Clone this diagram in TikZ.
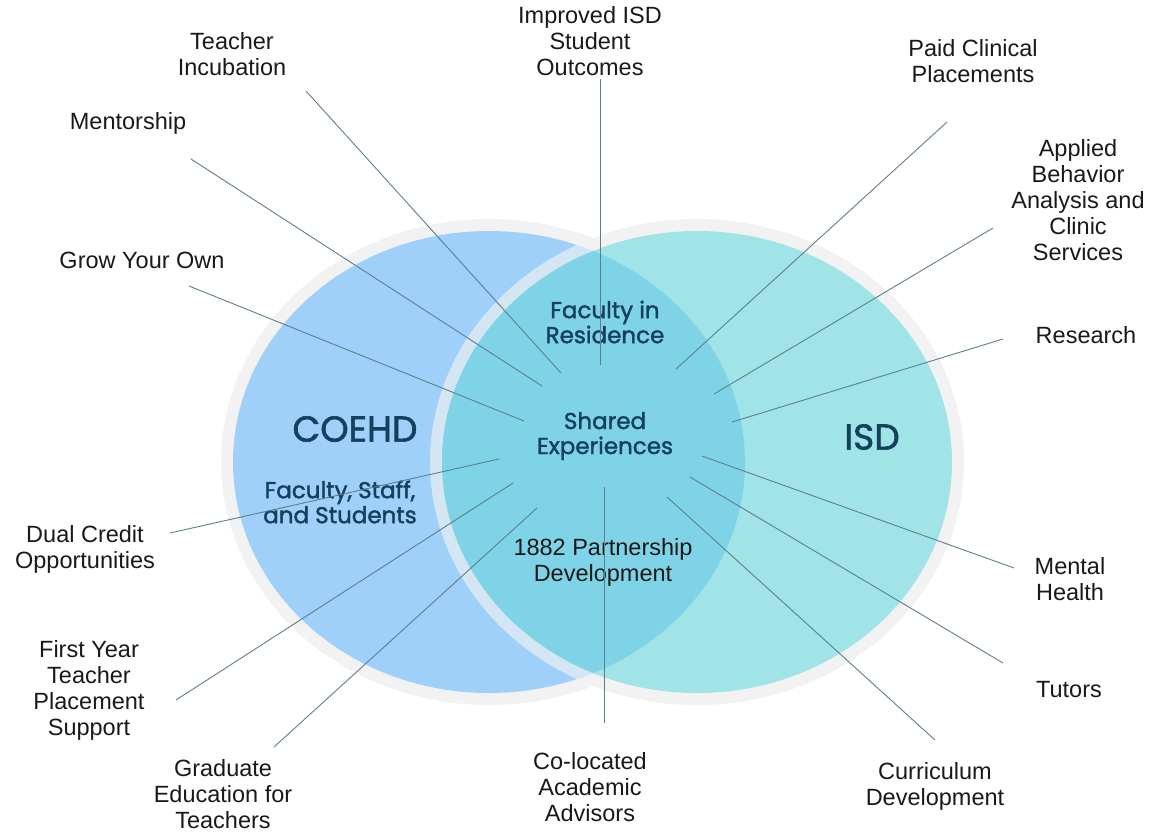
\documentclass[tikz,border=0pt]{standalone}
\usepackage{fontspec}
\setmainfont{Liberation Sans}
\newfontfamily\vennfont[FakeBold=1.6]{Poppins}
\usetikzlibrary{positioning}
\definecolor{coehdblue}{RGB}{158,208,250}
\definecolor{isdteal}{RGB}{160,228,232}
\definecolor{sharedteal}{RGB}{126,212,230}
\definecolor{halo}{RGB}{242,242,242}
\definecolor{navy}{RGB}{20,64,94}
\definecolor{spokegray}{RGB}{96,125,139}
\tikzstyle{lbl}=[align=center, inner sep=0pt, text=black!90, font=\fontsize{23.5}{26}\selectfont]
\tikzstyle{vtitle}=[inner sep=0pt, text=navy, font=\vennfont\fontsize{36}{38}\selectfont]
\tikzstyle{ctext}=[align=center, inner sep=0pt, text=navy, font=\vennfont\fontsize{23}{25}\selectfont]
\tikzstyle{spoke}=[draw=spokegray, line width=0.9pt]
\newcommand{\lbl}{\node[lbl]}

\begin{document}
\begin{tikzpicture}[x=1pt, y=-1pt
  ,every edge/.style={spoke}
]
\useasboundingbox (0,0) rectangle (1161,831);
\coordinate (lc) at (489,462);
\coordinate (rc) at (697,462);
\fill[halo] (lc) ellipse [x radius=268pt, y radius=243pt];
\fill[halo] (rc) ellipse [x radius=267pt, y radius=243pt];
\fill[coehdblue] (lc) ellipse [x radius=256pt, y radius=231pt];
\fill[halo, opacity=.65] (rc) ellipse [x radius=267pt, y radius=243pt];
\fill[isdteal] (rc) ellipse [x radius=255pt, y radius=231pt];
\begin{scope}
\clip (lc) ellipse [x radius=256pt, y radius=231pt];
\fill[sharedteal] (rc) ellipse [x radius=255pt, y radius=231pt];
\end{scope}

\node[vtitle] (coehd) at (355,429) {COEHD};
\node[vtitle] (isd) at (872,437) {ISD};
\node[ctext] (fir) at (605,322) {Faculty in\\Residence};
\node[ctext] (shexp) at (605,436) {Shared\\Experiences};
\node[ctext] (fss) at (340,502) {Faculty, Staff,\\and Students};
\lbl (partner) at (603,562) {1882 Partnership\\Development};

\lbl (incub) at (232,54) {Teacher\\Incubation};
\lbl (mentor) at (128,123) {Mentorship};
\lbl (grow) at (142,260) {Grow Your Own};
\lbl (dual) at (85,549) {Dual Credit\\Opportunities};
\lbl (firsty) at (89,690) {First Year\\Teacher\\Placement\\Support};
\lbl (grad) at (223,794) {Graduate\\Education for\\Teachers};
\lbl (improved) at (590,41) {Improved ISD\\Student\\Outcomes};
\lbl (advisors) at (590,787) {Co-located\\Academic\\Advisors};
\lbl (paid) at (973,61) {Paid Clinical\\Placements};
\lbl (aba) at (1078,200) {Applied\\Behavior\\Analysis and\\Clinic\\Services};
\lbl (research) at (1086,335) {Research};
\lbl (mental) at (1070,579) {Mental\\Health};
\lbl (tutors) at (1069,690) {Tutors};
\lbl (curric) at (935,786) {Curriculum\\Development};

\coordinate (incub-o) at (306,91);    \coordinate (incub-i) at (561,373);
\coordinate (mentor-o) at (191,159);  \coordinate (mentor-i) at (542,386);
\coordinate (grow-o) at (189,286);    \coordinate (grow-i) at (524,421);
\coordinate (dual-o) at (170,533);    \coordinate (dual-i) at (499,459);
\coordinate (firsty-o) at (176,700);  \coordinate (firsty-i) at (513,483);
\coordinate (grad-o) at (274,747);    \coordinate (grad-i) at (537,508);
\coordinate (improved-o) at (600,79); \coordinate (improved-i) at (600,365);
\coordinate (advisors-o) at (604,723);\coordinate (advisors-i) at (604,487);
\coordinate (paid-o) at (947,122);    \coordinate (paid-i) at (676,369);
\coordinate (aba-o) at (993,228);     \coordinate (aba-i) at (714,394);
\coordinate (research-o) at (1003,339); \coordinate (research-i) at (732,422);
\coordinate (mental-o) at (1014,568); \coordinate (mental-i) at (702,456);
\coordinate (tutors-o) at (1003,663); \coordinate (tutors-i) at (690,477);
\coordinate (curric-o) at (935,740);  \coordinate (curric-i) at (667,497);
\path
(incub-o) edge (incub-i)
(mentor-o) edge (mentor-i)
(grow-o) edge (grow-i)
(dual-o) edge (dual-i)
(firsty-o) edge (firsty-i)
(grad-o) edge (grad-i)
(improved-o) edge (improved-i)
(advisors-o) edge (advisors-i)
(paid-o) edge (paid-i)
(aba-o) edge (aba-i)
(research-o) edge (research-i)
(mental-o) edge (mental-i)
(tutors-o) edge (tutors-i)
(curric-o) edge (curric-i)
;
\end{tikzpicture}
\end{document}
